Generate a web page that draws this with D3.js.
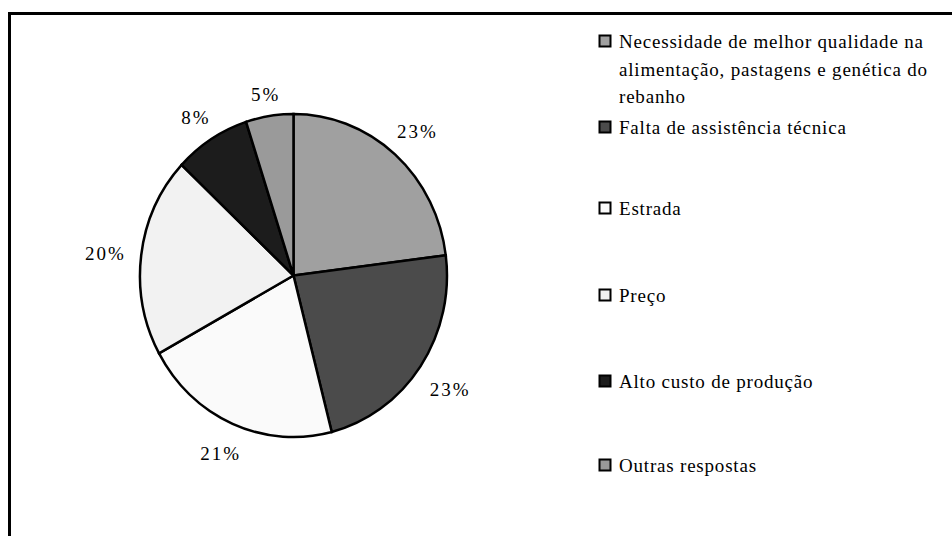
<!DOCTYPE html>
<html><head><meta charset="utf-8">
<script src="https://cdn.jsdelivr.net/npm/d3@7"></script>
<style>body{margin:0;background:#fff}svg{display:block}</style>
</head><body>
<script>
const categories = ["Necessidade de melhor qualidade na alimentação, pastagens e genética do rebanho",
  "Falta de assistência técnica","Estrada","Preço","Alto custo de produção","Outras respostas"];
const values = [23, 23, 21, 20, 8, 5];
const labels = ["23%","23%","21%","20%","8%","5%"];
const colors = ["#a0a0a0","#4b4b4b","#fafafa","#f2f2f2","#1c1c1c","#9a9a9a"];
const legendLines = [["Necessidade de melhor qualidade na","alimentação, pastagens e genética do","rebanho"],
  ["Falta de assistência técnica"],["Estrada"],["Preço"],["Alto custo de produção"],["Outras respostas"]];

const W=952,H=536;
const FONT="Liberation Serif";
const svg=d3.select("body").append("svg").attr("width",W).attr("height",H);
svg.append("rect").attr("x",9.5).attr("y",13.5).attr("width",960).attr("height",560)
  .attr("fill","#fff").attr("stroke","#000").attr("stroke-width",3);

const cx=293.5, cy=275.5, rx=153.5, ry=161.5;
const pie=d3.pie().sort(null).value(d=>d);
const arcs=pie(values);
const arc=d3.arc().innerRadius(0).outerRadius(1);
const g=svg.append("g").attr("transform",`translate(${cx},${cy})`);
const gs=g.append("g").attr("transform",`scale(${rx},${ry})`);
gs.selectAll("path").data(arcs).join("path")
  .attr("d",arc).attr("fill",(d,i)=>colors[i])
  .attr("stroke","#000").attr("stroke-width",2.5).attr("vector-effect","non-scaling-stroke");

const fs=19, gap=15;
const lab=g.selectAll("text").data(arcs).join("text")
  .attr("font-family",FONT).attr("font-size",fs).attr("letter-spacing",2)
  .attr("text-anchor","middle").attr("dominant-baseline","central")
  .text((d,i)=>labels[i]);
lab.each(function(d){
  const a=(d.startAngle+d.endAngle)/2, s=Math.sin(a), c=-Math.cos(a);
  const bb=this.getBBox(), w=bb.width, h=fs*0.75;
  const ex=s*rx, ey=c*ry;
  const off=gap+Math.abs(s)*w/2+Math.abs(c)*h/2;
  d3.select(this).attr("x",ex+s*off).attr("y",ey+c*off+3);
});

const legY=[42,128,209,296,382,466];
const lg=svg.append("g");
legendLines.forEach((lines,i)=>{
  lg.append("rect").attr("x",599.5).attr("y",legY[i]-6.5).attr("width",11).attr("height",11)
    .attr("fill",colors[i]).attr("stroke","#000").attr("stroke-width",2);
  const t=lg.append("text").attr("x",619).attr("y",legY[i]+6)
    .attr("font-family",FONT).attr("font-size",19).attr("letter-spacing",0.8);
  lines.forEach((l,j)=>t.append("tspan").attr("x",619).attr("dy",j?27.5:0).text(l));
});
</script>
</body></html>
